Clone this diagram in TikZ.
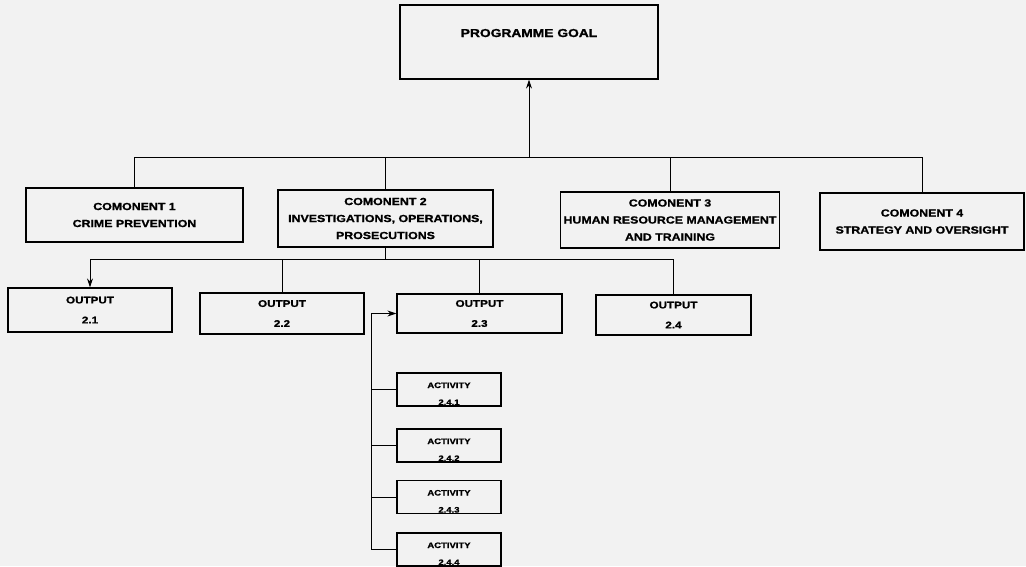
\documentclass[tikz,border=0pt]{standalone}
\usepackage{fontspec}
\newfontfamily\boxfont{Liberation Sans}[FakeStretch=1.2, BoldFeatures={FakeBold=1.2}]
\usetikzlibrary{arrows.meta, positioning}
\tikzstyle{goalbox} = [rectangle, draw=black, line width=1.2pt,
 minimum width=258pt, inner ysep=0pt, text height=32pt, text depth=42pt,
 font=\boxfont\bfseries\fontsize{11.5}{14}\selectfont]
\tikzstyle{compbox} = [rectangle, draw=black, line width=1.2pt,
 minimum width=215pt, minimum height=56pt, align=center,
 font=\boxfont\bfseries\fontsize{10.3}{17}\selectfont]
\tikzstyle{outbox} = [rectangle, draw=black, line width=1.2pt,
 minimum width=164pt, minimum height=41pt, align=center,
 font=\boxfont\bfseries\fontsize{9.7}{20}\selectfont]
\tikzstyle{actbox} = [rectangle, draw=black, line width=1.2pt,
 minimum width=104pt, inner ysep=0pt, text height=32pt, text depth=1pt,
 align=center, font=\boxfont\bfseries\fontsize{7.9}{17}\selectfont]
\tikzstyle{line} = [line width=0.9pt]
\tikzstyle{arrow} = [line width=0.9pt, ->, >={Stealth[length=9pt,width=6pt]}]

\begin{document}
\begin{tikzpicture}[x=1pt, y=1pt, node distance=54pt]
\fill[black!5] (-529,42) rectangle (497,-524);
\useasboundingbox (-529,42) rectangle (497,-524);
\node(goal) [goalbox] {PROGRAMME GOAL};
\node(comp1) [compbox, below of=goal, xshift=-394.5pt, yshift=-119pt, minimum width=217pt, minimum height=54pt] {COMONENT 1\\CRIME PREVENTION};
\node(comp2) [compbox, below of=goal, xshift=-143.5pt, yshift=-122.5pt, minimum height=57pt] {COMONENT 2\\INVESTIGATIONS, OPERATIONS,\\PROSECUTIONS};
\node(comp3) [compbox, below of=goal, xshift=141pt, yshift=-124pt, minimum width=214pt] {COMONENT 3\\HUMAN RESOURCE MANAGEMENT\\AND TRAINING};
\node(comp4) [compbox, below of=goal, xshift=393pt, yshift=-125.5pt, minimum width=204pt, minimum height=57pt] {COMONENT 4\\STRATEGY AND OVERSIGHT};
\node(out21) [outbox, below of=comp2, xshift=-295.5pt, yshift=-37.5pt, minimum height=44pt] {OUTPUT\\2.1};
\node(out22) [outbox, below of=comp2, xshift=-103.5pt, yshift=-41pt] {OUTPUT\\2.2};
\node(out23) [outbox, below of=comp2, xshift=94pt, yshift=-41pt, minimum width=165pt, minimum height=39pt] {OUTPUT\\2.3};
\node(out24) [outbox, below of=comp2, xshift=288pt, yshift=-42.5pt, minimum width=155pt, minimum height=40pt] {OUTPUT\\2.4};
\node(act1) [actbox, below of=out23, xshift=-30.5pt, yshift=-22pt] {ACTIVITY\\2.4.1};
\node(act2) [actbox, below of=act1, yshift=-2pt] {ACTIVITY\\2.4.2};
\node(act3) [actbox, below of=act2, yshift=2.5pt] {ACTIVITY\\2.4.3};
\node(act4) [actbox, below of=act3, yshift=1.5pt] {ACTIVITY\\2.4.4};
% goal and components
\coordinate (goal_bus) at ([yshift=-78pt]goal.south);
\draw[line] (comp1.north) |- (goal_bus) -| (comp4.north);
\draw[line] (comp2.north) |- (goal_bus);
\draw[line] (comp3.north) |- (goal_bus);
\draw[arrow] (goal_bus) -- (goal.south);
% outputs of component 2
\coordinate (comp2_bus) at ([yshift=-12pt]comp2.south);
\draw[line] (comp2.south) -- (comp2_bus) -| (out24.north);
\draw[arrow] (comp2_bus) -| (out21.north);
\draw[line] (out22.north) |- (comp2_bus);
\draw[line] (out23.north) |- (comp2_bus);
% activities
\coordinate (act_spine) at ([xshift=-25pt]act4.west);
\draw[arrow] (act4.west) -- (act_spine) |- (out23.west);
\foreach \n in {act1,act2,act3}
  \draw[line] (\n.west) -- (\n.west -| act_spine);
\end{tikzpicture}
\end{document}
